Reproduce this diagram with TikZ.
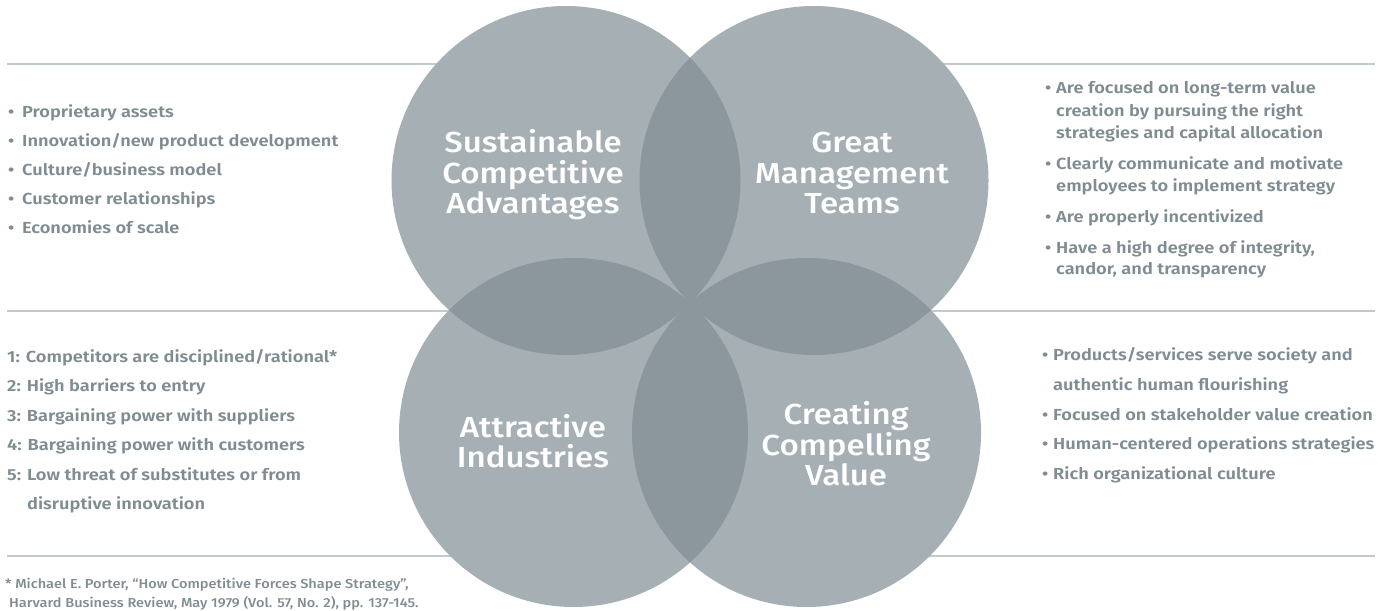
\documentclass[tikz,border=0pt]{standalone}
\usepackage{fontspec}
\setmainfont{Fira Sans Medium}
\newfontfamily\itemfam{Fira Sans SemiBold}[FakeStretch=1.14]
\newfontfamily\titlefam{Fira Sans Medium}[FakeStretch=1.14]
\newfontfamily\notefam{Fira Sans Medium}[FakeStretch=1.12]
\definecolor{circ}{HTML}{A6B0B4}
\definecolor{lens}{HTML}{8B979C}
\definecolor{rulec}{HTML}{C2CACD}
\definecolor{txt}{HTML}{7F8C92}
\newcommand\itemfont{\itemfam\fontsize{16}{20}\selectfont}
\newcommand\titlefont{\titlefam\fontsize{29}{30.5}\selectfont}
\newcommand\notefont{\notefam\fontsize{13}{19}\selectfont}
\newcommand\bul{\makebox[14pt][l]{•}}
\newcommand\bulr{\makebox[11pt][l]{•}}
\newcommand\indr{\hspace*{11pt}}
\tikzset{
  bubble/.style={circle, fill=circ, minimum size=349pt, inner sep=0pt, draw=none},
  title/.style={text=white, align=center, font=\titlefont, inner sep=0pt},
  item/.style={text=txt, font=\itemfont, inner sep=0pt, anchor=base west},
  note/.style={text=txt, font=\notefont, inner sep=0pt, anchor=base west},
  rulestyle/.style={draw=rulec, line width=2.5pt},
}
\begin{document}
\begin{tikzpicture}[x=1pt,y=-1pt]
\useasboundingbox (0,0) rectangle (1388,610);
% horizontal rules
\foreach \y [count=\i] in {64,311,556} {
  \coordinate (ra\i) at (7,\y);
  \coordinate (rb\i) at (1375,\y);
  \draw[rulestyle] (ra\i) -- (rb\i);
}
% circles
\node[bubble] (sca) at (566,180.5) {};
\node[bubble] (gmt) at (814,180.5) {};
\node[bubble] (ai)  at (573.5,432.5) {};
\node[bubble] (ccv) at (806.5,432.5) {};
% overlaps
\begin{scope}
  \clip (566,180.5) circle (174.5pt);
  \fill[lens] (814,180.5) circle (174.5pt);
  \fill[lens] (573.5,432.5) circle (174.5pt);
\end{scope}
\begin{scope}
  \clip (806.5,432.5) circle (174.5pt);
  \fill[lens] (814,180.5) circle (174.5pt);
  \fill[lens] (573.5,432.5) circle (174.5pt);
\end{scope}
% titles
\node[title] (tsca) at (533,175) {Sustainable\\Competitive\\Advantages};
\node[title] (tgmt) at (852,173) {Great\\Management\\Teams};
\node[title] (tai)  at (533,441) {Attractive\\Industries};
\node[title] (tccv) at (846,444) {Creating\\Compelling\\Value};
% left top list
\foreach \t [count=\i from 0] in {{Proprietary assets},{Innovation/new product development},{Culture/business model},{Customer relationships},{Economies of scale}}
  \node[item] (lt\i) at (8,{117+29*\i}) {\bul\t};
% left bottom list
\foreach \t [count=\i from 0] in {{1: Competitors are disciplined/rational*},{2: High barriers to entry},{3: Bargaining power with suppliers},{4: Bargaining power with customers},{5: Low threat of substitutes or from},{\hphantom{5: }disruptive innovation}}
  \node[item] (lb\i) at (7,{362.5+29.4*\i}) {\t};
% footnote
\node[note] (fn1) at (5,588) {* Michael E. Porter, “How Competitive Forces Shape Strategy”,};
\node[note] (fn2) at (9,607) {Harvard Business Review, May 1979 (Vol. 57, No. 2), pp. 137-145.};
% right top list
\foreach \y/\t [count=\i] in {93.5/{\bulr Are focused on long-term value},116.5/{\indr creation by pursuing the right},138.5/{\indr strategies and capital allocation},169.5/{\bulr Clearly communicate and motivate},191.5/{\indr employees to implement strategy},222.5/{\bulr Are properly incentivized},253.5/{\bulr Have a high degree of integrity,},274.5/{\indr candor, and transparency}}
  \node[item] (rt\i) at (1045,\y) {\t};
% right bottom list
\foreach \y/\t [count=\i] in {360.5/{\bulr Products/services serve society and},390.5/{\indr authentic human flourishing},420.5/{\bulr Focused on stakeholder value creation},449.5/{\bulr Human-centered operations strategies},479.5/{\bulr Rich organizational culture}}
  \node[item] (rb\i) at (1042,\y) {\t};
\end{tikzpicture}
\end{document}
